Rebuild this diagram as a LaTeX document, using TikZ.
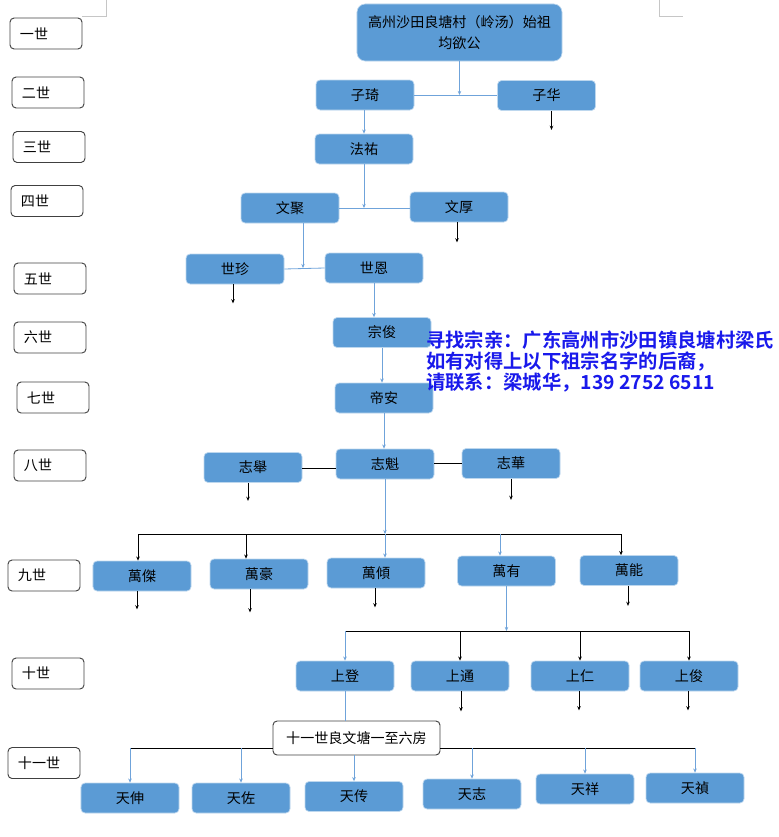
\documentclass[tikz,border=0pt]{standalone}
\usepackage{fontspec}
\setmainfont{Noto Sans CJK SC}[BoldFont={Noto Sans CJK SC Bold}]
\usetikzlibrary{positioning,arrows.meta}
\definecolor{boxblue}{HTML}{5B9BD5}
\definecolor{edgeblue}{HTML}{BDD7EE}
\definecolor{linkblue}{HTML}{6FA3DA}
\definecolor{labelgray}{HTML}{404040}
\definecolor{noteblue}{RGB}{25,25,235}

\begin{document}
\begin{tikzpicture}[
  x=0.03cm, y=-0.03cm,
  >={Stealth[length=3.5pt,width=3pt]},
  pers/.style={rectangle, draw=edgeblue, fill=boxblue, rounded corners=3.5pt,
               line width=0.6pt, minimum width=2.94cm, minimum height=0.9cm,
               font=\fontsize{12}{14}\selectfont, inner sep=1pt},
  gen/.style={rectangle, draw=labelgray, rounded corners=3.5pt, line width=0.8pt,
              minimum height=0.93cm, text width=1.56cm, inner xsep=0.3cm,
              align=left, font=\fontsize{12}{14}\selectfont},
  house/.style={rectangle, draw=labelgray, fill=white, rounded corners=3.5pt,
                line width=0.8pt, minimum width=5.01cm, minimum height=1.02cm,
                font=\fontsize{12}{14}\selectfont},
  bline/.style={draw=linkblue, line width=0.7pt},
  barr/.style={bline, ->},
  kline/.style={draw=black, line width=0.6pt},
  karr/.style={kline, ->}
]
\useasboundingbox (0,0) rectangle (778,837);
\draw[gray!45, line width=0.5pt] (82,16) -- (106,16) -- (106,0);
\draw[gray!45, line width=0.5pt] (659,0) -- (659,16) -- (683,16);

\foreach \n/\x/\y/\t in {g1/46/33.5/一世, g2/48/92.5/二世, g3/49/147/三世,
    g4/47/201/四世, g5/50/278.5/五世, g6/50/337.5/六世, g7/53/397.5/七世,
    g8/50/465.5/八世, g9/44/575.5/九世, g10/48/673.5/十世, g11/44/763/十一世}
  \node[gen] (\n) at (\x,\y) {\t};

\node[pers, minimum width=6.15cm, minimum height=1.71cm, rounded corners=7pt,
      align=center, font=\fontsize{12}{18}\selectfont] (root) at (459.5,32.5)
  {高州沙田良塘村（岭汤）始祖\\均欲公};
\node[pers] (zq)  at (365,95)    {子琦};
\node[pers] (zhua) at (546.5,95.5) {子华};
\node[pers] (fy)  at (364,149)   {法祐};
\node[pers] (wj)  at (290,208)   {文聚};
\node[pers] (wh)  at (459,207)   {文厚};
\node[pers] (sz)  at (235,269)   {世珍};
\node[pers] (se)  at (374,268)   {世恩};
\node[pers] (zj)  at (382,332.5) {宗俊};
\node[pers] (da)  at (384,398)   {帝安};
\node[pers] (zk)  at (385,464)   {志魁};
\node[pers] (zju) at (253,467.5) {志舉};
\node[pers] (zhh) at (511,463.5) {志華};
\node[pers] (w1)  at (142,576)   {萬傑};
\node[pers] (w2)  at (259,574)   {萬豪};
\node[pers] (w3)  at (376,573)   {萬傾};
\node[pers] (w4)  at (506.5,571) {萬有};
\node[pers] (w5)  at (629,570.5) {萬能};
\node[pers] (s1)  at (345,676)   {上登};
\node[pers] (s2)  at (460,676)   {上通};
\node[pers] (s3)  at (580,676)   {上仁};
\node[pers] (s4)  at (689,676)   {上俊};
\node[house] (wb) at (356.5,738) {十一世良文塘一至六房};
\node[pers] (t1)  at (130,798)   {天伸};
\node[pers] (t2)  at (241,798)   {天佐};
\node[pers] (t3)  at (354,796.5) {天传};
\node[pers] (t4)  at (472,794)   {天志};
\node[pers] (t5)  at (585,789)   {天祥};
\node[pers] (t6)  at (695,788)   {天禎};

\node[anchor=north west, inner sep=0pt, align=left, text=noteblue,
      font=\fontsize{16.5}{17.9}\selectfont\bfseries] (seek) at (426,331)
  {寻找宗亲：广东高州市沙田镇良塘村梁氏\\如有对得上以下祖宗名字的后裔，\\请联系：梁城华，139 2752 6511};

\draw[barr] (root.south) -- (root.south |- zq.east);
\draw[bline] (zq.east) -- (zhua.west |- zq.east);
\draw[barr] (fy.north |- zq.south) -- (fy.north);
\draw[barr] (fy.south) -- (fy.south |- wj.east);
\draw[bline] (wj.east) -- (wh.west |- wj.east);
\coordinate (k5) at (303,268);
\draw[barr] (wj.south -| k5) -- (k5);
\draw[bline] (sz.east) -- (se.west);
\draw[barr] (se.south) -- (se.south |- zj.north);
\draw[barr] (zj.south) -- (zj.south |- da.north);
\draw[barr] (da.south) -- (da.south |- zk.north);
\draw[kline] (zju.east |- 0,468) -- (zk.west |- 0,468);
\draw[kline] (zk.east |- zhh.west) -- (zhh.west);

\coordinate (j9) at (0,534);
\draw[kline] (138,534) coordinate (j9a) -- (621,534) coordinate (j9e);
\draw[barr] (zk.south) -- (zk.south |- j9);
\draw[barr] (zk.south |- j9) -- (zk.south |- w3.north);
\draw[karr] (j9a) -- (j9a |- w1.north);
\draw[karr] (246,534) coordinate (j9b) -- (j9b |- w2.north);
\draw[barr] (500,534) coordinate (j9d) -- (j9d |- w4.north);
\draw[karr] (j9e) -- (j9e |- w5.north);

\coordinate (j10) at (0,631);
\draw[barr] (w4.south) -- (w4.south |- j10);
\draw[kline] (s1.north |- j10) -- (s4.north |- j10);
\draw[barr] (s1.north |- j10) -- (s1.north);
\draw[karr] (s2.north |- j10) -- (s2.north);
\draw[karr] (s3.north |- j10) -- (s3.north);
\draw[karr] (s4.north |- j10) -- (s4.north);
\draw[bline] (s1.south) -- (s1.south |- wb.north);

\coordinate (j11) at (0,748);
\draw[kline] (t1.north |- j11) -- (wb.west |- j11);
\draw[kline] (wb.east |- j11) -- (t6.north |- j11);
\foreach \n in {t1,t2,t4,t5,t6}
  \draw[barr] (\n.north |- j11) -- (\n.north);
\draw[barr] (t3.north |- wb.south) -- (t3.north);

\foreach \n/\dx/\len in {zhua/5/19, wh/-2/20, sz/-2/19, zju/-5/18, zhh/0/21,
    w1/-5/18, w2/-9/23, w3/-1/19, w5/-1/20, s2/1/20, s3/-1/19, s4/-1/19}
  \draw[karr] (\n.south) ++(\dx,0) -- ++(0,\len);
\end{tikzpicture}
\end{document}
